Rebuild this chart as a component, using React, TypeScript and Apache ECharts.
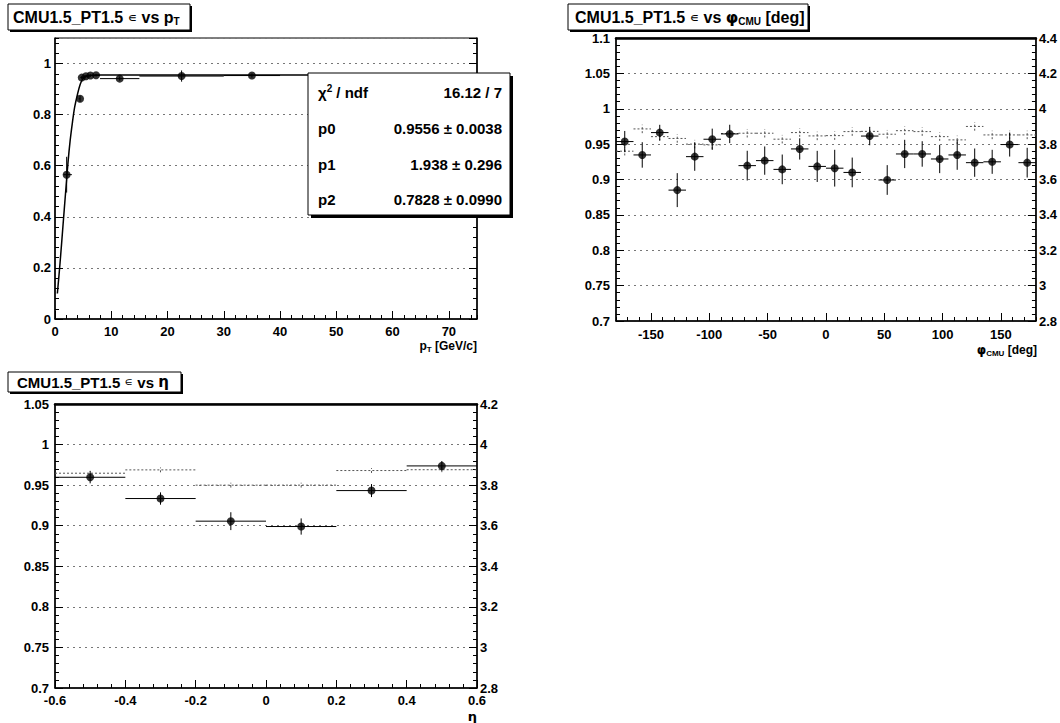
import React, { useEffect, useRef } from "react";
import * as echarts from "echarts";

const FONT = '"Liberation Sans", Arial, Helvetica, "DejaVu Sans", sans-serif';

// ---------- Panel 1: efficiency vs pT ----------
const PT_X = [2.07, 4.45, 4.75, 5.5, 6.3, 7.3, 11.5, 22.5, 35.0];
const PT_EFF = [0.565, 0.862, 0.945, 0.95, 0.953, 0.954, 0.941, 0.951, 0.953];
const PT_XLO = [1.5, 4.2, 4.5, 5.0, 6.0, 7.0, 8.0, 15.0, 30.0];
const PT_XHI = [3.0, 4.5, 5.0, 6.0, 7.0, 8.0, 15.0, 30.0, 40.0];
const PT_ERR = [0.07, 0.012, 0.006, 0.005, 0.005, 0.005, 0.008, 0.022, 0.008];
// fit curve
const FIT_X = [0.42, 0.9, 1.4, 1.9, 2.3, 2.7, 3.1, 3.5, 4.0, 4.5, 5.0, 5.6, 6.5, 8, 75];
const FIT_Y = [0.1, 0.22, 0.36, 0.5, 0.61, 0.7, 0.77, 0.83, 0.88, 0.92, 0.942, 0.951, 0.9545, 0.9556, 0.9556];
const STATS = [
  ["{b|χ}{sup|2}{b| / ndf}", "16.12 / 7"],
  ["{b|p0}", "0.9556 ± 0.0038"],
  ["{b|p1}", "1.938 ± 0.296"],
  ["{b|p2}", "0.7828 ± 0.0990"],
];

// ---------- Panel 2: efficiency vs phi ----------
const PHI_C = [-172.5, -157.5, -142.5, -127.5, -112.5, -97.5, -82.5, -67.5, -52.5, -37.5, -22.5, -7.5,
  7.5, 22.5, 37.5, 52.5, 67.5, 82.5, 97.5, 112.5, 127.5, 142.5, 157.5, 172.5];
const PHI_EFF = [0.9536, 0.9347, 0.9663, 0.885, 0.9323, 0.9569, 0.9644, 0.9196, 0.9267, 0.9143, 0.9432, 0.9185,
  0.916, 0.91, 0.9614, 0.8993, 0.9361, 0.9361, 0.929, 0.9347, 0.9238, 0.925, 0.9494, 0.9238];
const PHI_ERR = [0.015, 0.018, 0.011, 0.024, 0.02, 0.015, 0.013, 0.021, 0.02, 0.021, 0.015, 0.022,
  0.026, 0.021, 0.013, 0.021, 0.02, 0.018, 0.02, 0.021, 0.02, 0.017, 0.017, 0.021];
const PHI_REF = [0.94, 0.9715, 0.9606, 0.958, 0.95, 0.9489, 0.965, 0.9654, 0.9654, 0.957, 0.9663, 0.9616,
  0.962, 0.9677, 0.968, 0.964, 0.969, 0.9677, 0.9606, 0.956, 0.975, 0.963, 0.963, 0.963];
const PHI_REF_ERR = 0.006;
const PHI_HW = 7.5;
const PHI_TICKS = [-150, -100, -50, 0, 50, 100, 150];

// ---------- Panel 3: efficiency vs eta ----------
const ETA_C = [-0.5, -0.3, -0.1, 0.1, 0.3, 0.5];
const ETA_EFF = [0.9597, 0.9335, 0.9056, 0.899, 0.9433, 0.9737];
const ETA_ERR = [0.0075, 0.0076, 0.011, 0.01, 0.008, 0.006];
const ETA_REF = [0.9647, 0.9688, 0.95, 0.95, 0.968, 0.969];
const ETA_REF_ERR = 0.003;
const ETA_HW = 0.1;

const labelStyle = { color: "#000", fontFamily: FONT, fontWeight: "bold" as const, fontSize: 13 };

function errSeries(xi: number, yi: number, data: number[][], color: string, width: number, dash?: number[]) {
  return {
    type: "custom",
    xAxisIndex: xi,
    yAxisIndex: yi,
    data,
    clip: true,
    z: 3,
    encode: { x: 0, y: 1 },
    renderItem: (_p: any, api: any) => {
      const x = api.value(0), y = api.value(1);
      const a = api.coord([api.value(2), y]);
      const b = api.coord([api.value(3), y]);
      const c = api.coord([x, api.value(4)]);
      const d = api.coord([x, api.value(5)]);
      const style: any = { stroke: color, lineWidth: width };
      if (dash) style.lineDash = dash;
      return {
        type: "group",
        children: [
          { type: "line", shape: { x1: a[0], y1: a[1], x2: b[0], y2: b[1] }, style },
          { type: "line", shape: { x1: c[0], y1: c[1], x2: d[0], y2: d[1] }, style },
        ],
      };
    },
  };
}

function markers(xi: number, yi: number, xs: number[], ys: number[], size: number) {
  return {
    type: "scatter",
    xAxisIndex: xi,
    yAxisIndex: yi,
    data: xs.map((x, i) => [x, ys[i]]),
    symbol: "circle",
    symbolSize: size,
    itemStyle: { color: "#000" },
    z: 4,
  };
}

function valueAxisX(grid: number, min: number, max: number, interval: number, margin: number, showMax = false) {
  return {
    type: "value",
    gridIndex: grid,
    position: "bottom",
    min,
    max,
    interval,
    axisLine: { show: true, onZero: false, lineStyle: { color: "#000", width: 1.5 } },
    axisTick: { show: true, inside: true, length: 8, lineStyle: { color: "#000" } },
    axisLabel: { ...labelStyle, margin, showMaxLabel: showMax },
    splitLine: { show: false },
  };
}

// minor-tick overlay axis (ticks only)
function minorX(grid: number, min: number, max: number, interval: number) {
  return {
    type: "value", gridIndex: grid, position: "bottom", min, max, interval,
    axisLine: { show: false, onZero: false },
    axisTick: { show: true, inside: true, length: 4, lineStyle: { color: "#000" } },
    axisLabel: { show: false },
    splitLine: { show: false },
  };
}
function minorY(grid: number, pos: string, min: number, max: number, interval: number) {
  return {
    type: "value", gridIndex: grid, position: pos, min, max, interval,
    axisLine: { show: false, onZero: false },
    axisTick: { show: true, inside: true, length: 4, lineStyle: { color: "#000" } },
    axisLabel: { show: false },
    splitLine: { show: false },
  };
}

function valueAxisY(grid: number, pos: string, min: number, max: number, interval: number, opts: any) {
  return {
    type: "value",
    gridIndex: grid,
    position: pos,
    min,
    max,
    interval,
    axisLine: { show: true, onZero: false, lineStyle: { color: "#000", width: 1.5 } },
    axisTick: { show: true, inside: true, length: 8, lineStyle: { color: "#000" } },
    axisLabel: { ...labelStyle, margin: opts.margin ?? 4, show: opts.labels !== false, showMaxLabel: opts.showMax ?? true },
    splitLine: opts.grid
      ? { show: true, lineStyle: { color: "#777", width: 1, type: [2, 4] } }
      : { show: false },
  };
}

function titleBox(x: number, y: number, w: number, h: number, tx: number, text: string, fs: number) {
  const rich: any = {
    b: { fontSize: fs, fontWeight: "bold", fontFamily: FONT, fill: "#000", color: "#000", lineHeight: fs + 2, verticalAlign: "middle" },
    e: { fontSize: fs - 3, fontFamily: '"DejaVu Sans", sans-serif', fill: "#000", color: "#000", lineHeight: fs + 2, verticalAlign: "middle" },
    g: { fontSize: fs, fontWeight: "bold", fontFamily: '"DejaVu Sans", sans-serif', fill: "#000", color: "#000", lineHeight: fs + 2, verticalAlign: "middle" },
    s: { fontSize: Math.round(fs * 0.6), fontWeight: "bold", fontFamily: FONT, fill: "#000", color: "#000", lineHeight: Math.round(fs * 0.6), verticalAlign: "bottom" },
  };
  return [
    { type: "rect", z: 100, shape: { x: x + 2, y: y + 2, width: w, height: h }, style: { fill: "#000" } },
    { type: "rect", z: 101, shape: { x, y, width: w, height: h }, style: { fill: "#fff", stroke: "#000", lineWidth: 1 } },
    {
      type: "text", z: 102, x: tx, y: y + h / 2,
      style: { text, rich, verticalAlign: "middle", textVerticalAlign: "middle", align: "left", textAlign: "left" },
    },
  ];
}

function axisTitle(x: number, y: number, text: string, fs: number) {
  const rich: any = {
    b: { fontSize: fs, fontWeight: "bold", fontFamily: FONT, fill: "#000", color: "#000", lineHeight: fs + 2, verticalAlign: "middle" },
    g: { fontSize: fs, fontWeight: "bold", fontFamily: '"DejaVu Sans", sans-serif', fill: "#000", color: "#000", lineHeight: fs + 2, verticalAlign: "middle" },
    s: { fontSize: Math.round(fs * 0.65), fontWeight: "bold", fontFamily: FONT, fill: "#000", color: "#000", lineHeight: Math.round(fs * 0.65), verticalAlign: "bottom" },
  };
  return {
    type: "text", z: 102, x, y,
    style: { text, rich, align: "right", textAlign: "right", verticalAlign: "middle", textVerticalAlign: "middle" },
  };
}

function statsBox() {
  const x = 308, y = 73, w = 202, h = 142;
  const rowsY = [92, 128, 164, 199];
  const rich: any = {
    b: { fontSize: 15, fontWeight: "bold", fontFamily: FONT, fill: "#000", color: "#000", lineHeight: 18, verticalAlign: "middle" },
    sup: { fontSize: 10, fontWeight: "bold", fontFamily: FONT, fill: "#000", color: "#000", lineHeight: 10, verticalAlign: "top" },
  };
  const els: any[] = [
    { type: "rect", z: 100, shape: { x: x + 3, y: y + 3, width: w, height: h }, style: { fill: "#000" } },
    { type: "rect", z: 101, shape: { x, y, width: w, height: h }, style: { fill: "#fff", stroke: "#000", lineWidth: 1 } },
  ];
  STATS.forEach((row, i) => {
    els.push({
      type: "text", z: 102, x: x + 10, y: rowsY[i],
      style: { text: row[0], rich, align: "left", textAlign: "left", verticalAlign: "middle", textVerticalAlign: "middle" },
    });
    els.push({
      type: "text", z: 102, x: x + w - 8, y: rowsY[i],
      style: {
        text: row[1], fill: "#000", font: `bold 15px ${FONT}`,
        align: "right", textAlign: "right", verticalAlign: "middle", textVerticalAlign: "middle",
      },
    });
  });
  return els;
}

export default function App() {
  const ref = useRef<HTMLDivElement>(null);
  useEffect(() => {
    document.body.style.margin = "0";
    const chart = echarts.init(ref.current!, null, { renderer: "svg" });

    const ptData = PT_X.map((x, i) => [x, PT_EFF[i], PT_XLO[i], PT_XHI[i], PT_EFF[i] - PT_ERR[i], PT_EFF[i] + PT_ERR[i]]);
    const phiData = PHI_C.map((c, i) => [c, PHI_EFF[i], c - PHI_HW, c + PHI_HW, PHI_EFF[i] - PHI_ERR[i], PHI_EFF[i] + PHI_ERR[i]]);
    const phiRef = PHI_C.map((c, i) => [c, PHI_REF[i], c - PHI_HW, c + PHI_HW, PHI_REF[i] - PHI_REF_ERR, PHI_REF[i] + PHI_REF_ERR]);
    const etaData = ETA_C.map((c, i) => [c, ETA_EFF[i], c - ETA_HW, c + ETA_HW, ETA_EFF[i] - ETA_ERR[i], ETA_EFF[i] + ETA_ERR[i]]);
    const etaRef = ETA_C.map((c, i) => [c, ETA_REF[i], c - ETA_HW, c + ETA_HW, ETA_REF[i] - ETA_REF_ERR, ETA_REF[i] + ETA_REF_ERR]);

    const option: any = {
      animation: false,
      backgroundColor: "#fff",
      grid: [
        { left: 55, top: 38, width: 422, height: 281, show: true, borderColor: "#000", borderWidth: 1, backgroundColor: "transparent" },
        { left: 616, top: 38, width: 422, height: 283, show: true, borderColor: "#000", borderWidth: 1, backgroundColor: "transparent" },
        { left: 55, top: 404, width: 422, height: 284, show: true, borderColor: "#000", borderWidth: 1, backgroundColor: "transparent" },
      ],
      xAxis: [
        valueAxisX(0, 0, 75, 10, 6),
        {
          type: "value", gridIndex: 1, position: "bottom", min: -180, max: 180,
          axisLine: { show: true, onZero: false, lineStyle: { color: "#000", width: 1.5 } },
          axisTick: { show: true, inside: true, length: 8, customValues: PHI_TICKS, lineStyle: { color: "#000" } },
          axisLabel: { ...labelStyle, margin: 7, customValues: PHI_TICKS },
          splitLine: { show: false },
        },
        minorX(1, -180, 180, 10),
        valueAxisX(2, -0.6, 0.6, 0.2, 6, true),
        {
          type: "value", gridIndex: 1, position: "top", min: -180, max: 180,
          axisLine: { show: true, onZero: false, lineStyle: { color: "#000", width: 2.5 } },
          axisTick: { show: false }, axisLabel: { show: false }, splitLine: { show: false },
        },
        {
          type: "value", gridIndex: 2, position: "top", min: -0.6, max: 0.6,
          axisLine: { show: true, onZero: false, lineStyle: { color: "#000", width: 2.5 } },
          axisTick: { show: false }, axisLabel: { show: false }, splitLine: { show: false },
        },
        minorX(0, 0, 75, 2),
        minorX(2, -0.6, 0.6, 0.04),
      ],
      yAxis: [
        valueAxisY(0, "left", 0, 1.1, 0.2, { grid: true, margin: 4, showMax: false }),
        valueAxisY(0, "right", 0, 1.1, 0.2, { labels: false }),
        valueAxisY(1, "left", 0.7, 1.1, 0.05, { grid: true, margin: 6 }),
        valueAxisY(1, "right", 2.8, 4.4, 0.2, { margin: 3 }),
        valueAxisY(2, "left", 0.7, 1.05, 0.05, { grid: true, margin: 6 }),
        valueAxisY(2, "right", 2.8, 4.2, 0.2, { margin: 3 }),
        minorY(0, "left", 0, 1.1, 0.04),
        minorY(0, "right", 0, 1.1, 0.04),
        minorY(1, "left", 0.7, 1.1, 0.01),
        minorY(1, "right", 2.8, 4.4, 0.04),
        minorY(2, "left", 0.7, 1.05, 0.01),
        minorY(2, "right", 2.8, 4.2, 0.04),
      ],
      series: [
        {
          type: "line", xAxisIndex: 0, yAxisIndex: 0,
          data: FIT_X.map((x, i) => [x, FIT_Y[i]]),
          smooth: 0.3, symbol: "none", clip: true, z: 2,
          lineStyle: { color: "#000", width: 1.5 },
        },
        errSeries(0, 0, ptData, "#000", 1),
        markers(0, 0, PT_X, PT_EFF, 8),
        errSeries(2, 2, phiRef, "#555", 1, [2, 2]),
        errSeries(2, 2, phiData, "#000", 1),
        markers(2, 2, PHI_C, PHI_EFF, 8),
        errSeries(3, 4, etaRef, "#555", 1, [2, 2]),
        errSeries(3, 4, etaData, "#000", 1),
        markers(3, 4, ETA_C, ETA_EFF, 8),
      ],
      graphic: [
        ...titleBox(8, 4, 182, 26, 13, "{b|CMU1.5_PT1.5 }{e|∊}{b| vs p}{s|T}", 16),
        ...titleBox(568, 4, 240, 26, 575, "{b|CMU1.5_PT1.5 }{e|∊}{b| vs }{g|φ}{s|CMU}{b| [deg]}", 16),
        ...titleBox(8, 372, 173, 20, 17, "{b|CMU1.5_PT1.5 }{e|∊}{b| vs }{g|η}", 15),
        ...statsBox(),
        axisTitle(477, 346, "{b|p}{s|T}{b| [GeV/c]}", 12),
        axisTitle(1037, 350, "{g|φ}{s|CMU}{b| [deg]}", 12),
        axisTitle(477, 716, "{g|η}", 13),
      ],
    };
    chart.setOption(option);
    return () => chart.dispose();
  }, []);
  return <div ref={ref} style={{ width: 1060, height: 723, background: "#fff" }} />;
}
